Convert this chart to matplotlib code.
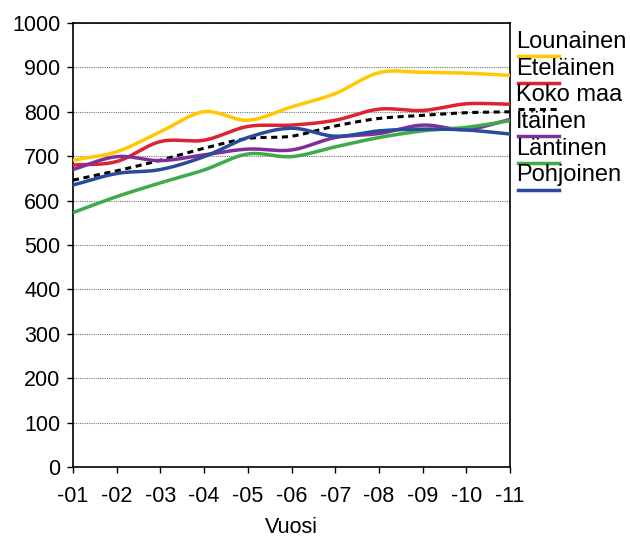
import numpy as np
import matplotlib
matplotlib.use("Agg")
import matplotlib.pyplot as plt
from matplotlib.lines import Line2D

plt.rcParams['font.family'] = ['Liberation Sans', 'DejaVu Sans']

years = ["-01", "-02", "-03", "-04", "-05", "-06", "-07", "-08", "-09", "-10", "-11"]

lounainen = [691, 710, 755, 800, 781, 811, 841, 888, 889, 887, 882]
etelainen = [680, 688, 733, 736, 767, 770, 781, 806, 803, 818, 817]
koko_maa  = [646, 667, 691, 718, 740, 745, 768, 785, 792, 798, 800]
itainen   = [670, 699, 690, 703, 716, 714, 742, 751, 770, 760, 783]
lantinen  = [573, 609, 640, 669, 705, 699, 721, 742, 757, 765, 780]
pohjoinen = [635, 661, 670, 699, 742, 763, 745, 757, 761, 759, 750]

series = [
    ("Lounainen", lounainen, "#FFC800", "-"),
    ("Eteläinen", etelainen, "#DD2230", "-"),
    ("Koko maa", koko_maa, "#000000", (0, (2, 1.5))),
    ("Itäinen", itainen, "#7E2F9C", "-"),
    ("Läntinen", lantinen, "#3EAA4A", "-"),
    ("Pohjoinen", pohjoinen, "#2B4A9C", "-"),
]


def smooth(x, y, n=20):
    """Catmull-Rom curve through the given points (display smoothing)."""
    x = np.asarray(x, float)
    y = np.asarray(y, float)
    px = np.concatenate([[2 * x[0] - x[1]], x, [2 * x[-1] - x[-2]]])
    py = np.concatenate([[2 * y[0] - y[1]], y, [2 * y[-1] - y[-2]]])
    xs, ys = [], []
    t = np.linspace(0, 1, n, endpoint=False)
    for i in range(1, len(px) - 2):
        for arr, out in ((px, xs), (py, ys)):
            p0, p1, p2, p3 = arr[i - 1], arr[i], arr[i + 1], arr[i + 2]
            out.extend(0.5 * ((2 * p1) + (-p0 + p2) * t
                              + (2 * p0 - 5 * p1 + 4 * p2 - p3) * t ** 2
                              + (-p0 + 3 * p1 - 3 * p2 + p3) * t ** 3))
    xs.append(x[-1])
    ys.append(y[-1])
    return np.array(xs), np.array(ys)


fig = plt.figure(figsize=(6.3, 5.37), dpi=100)
ax = fig.add_axes([73 / 630, 70 / 537, 437 / 630, 444 / 537])

xpos = np.arange(len(years))
for name, vals, color, ls in series:
    sx, sy = smooth(xpos, vals)
    ax.plot(sx, sy, color=color, lw=2.5 if ls == "-" else 2.2, linestyle=ls,
            solid_capstyle="round", zorder=3)

ax.set_xlim(0, len(years) - 1)
ax.set_ylim(0, 1000)
ax.set_yticks(np.arange(0, 1001, 100))
ax.set_xticks(xpos)
ax.set_xticklabels(years)
ax.tick_params(axis="both", labelsize=15.5, length=4, width=1, direction="out", pad=5)
ax.tick_params(axis="x", pad=10)
ax.yaxis.grid(True, color="#777777", linestyle=(0, (1, 1)), linewidth=0.8)
ax.set_axisbelow(True)
for sp in ax.spines.values():
    sp.set_linewidth(1.2)
ax.set_xlabel("Vuosi", fontsize=15.5, labelpad=7)

# legend: label text with the series line underneath
for i, (name, vals, color, ls) in enumerate(series):
    ytext = 1 - (42 + i * 26.7) / 537
    yline = 1 - (56 + i * 26.7) / 537
    fig.text(516 / 630, ytext, name, fontsize=17, va="center", ha="left")
    fig.add_artist(Line2D([518 / 630, 559 / 630], [yline, yline],
                          color=color, lw=2.5 if ls == "-" else 2.2, linestyle=ls,
                          transform=fig.transFigure))

fig.savefig("out.png", dpi=100)
